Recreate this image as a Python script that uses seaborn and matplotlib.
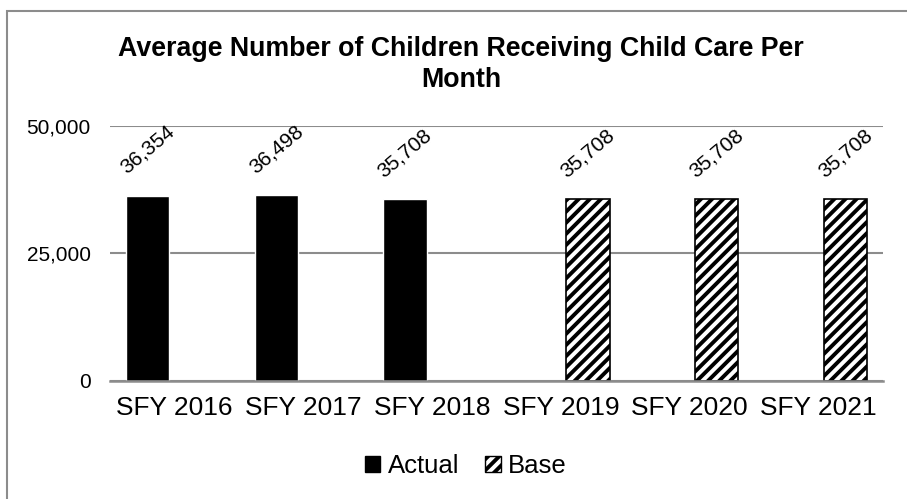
import pandas as pd
import matplotlib.pyplot as plt
import seaborn as sns
from matplotlib.patches import Rectangle, Patch
from matplotlib.ticker import FuncFormatter

# --- data ---
years = ['SFY 2016', 'SFY 2017', 'SFY 2018', 'SFY 2019', 'SFY 2020', 'SFY 2021']
actual_years = ['SFY 2016', 'SFY 2017', 'SFY 2018']
actual_values = [36354, 36498, 35708]
base_years = ['SFY 2019', 'SFY 2020', 'SFY 2021']
base_values = [35708, 35708, 35708]
series_names = ['Actual', 'Base']

df = pd.concat([
    pd.DataFrame({'Year': actual_years, 'Count': actual_values, 'Series': series_names[0]}),
    pd.DataFrame({'Year': base_years, 'Count': base_values, 'Series': series_names[1]}),
], ignore_index=True)

sns.set_style('white')
plt.rcParams['font.family'] = ['Liberation Sans', 'DejaVu Sans']
plt.rcParams['hatch.linewidth'] = 2.8
plt.rcParams['hatch.color'] = 'black'
plt.rcParams['text.color'] = 'black'
plt.rcParams['xtick.color'] = 'black'
plt.rcParams['ytick.color'] = 'black'

fig = plt.figure(figsize=(9.07, 4.99), dpi=100)
ax = fig.add_axes([0.1213, 0.2365, 0.8522, 0.511])

sns.barplot(data=df, x='Year', y='Count', hue='Series', order=years,
            hue_order=series_names, palette=['black', 'white'], dodge=True,
            width=0.84, gap=0.2, saturation=1, ax=ax, legend=False)

# Base bars: white with bold diagonal hatch
for bar in ax.containers[1]:
    bar.set_hatch('///')
    bar.set_edgecolor('black')
    bar.set_linewidth(1.2)

# rotated value labels above each bar
for cont in ax.containers:
    for bar in cont:
        h = bar.get_height()
        if pd.isna(h) or h == 0:
            continue
        ax.annotate(f'{int(h):,}', (bar.get_x() + bar.get_width() / 2, h),
                    xytext=(0, 33), textcoords='offset points',
                    ha='center', va='center', rotation=40, fontsize=15,
                    annotation_clip=False)

ax.set_ylim(0, 50000)
ax.set_yticks([0, 25000, 50000])
ax.yaxis.set_major_formatter(FuncFormatter(lambda v, p: f'{int(v):,}'))
ax.set_xlabel('')
ax.set_ylabel('')
ax.yaxis.grid(True, color='#8c8c8c', linewidth=1.5)
ax.set_axisbelow(True)
for side in ['top', 'right', 'left']:
    ax.spines[side].set_visible(False)
ax.spines['bottom'].set_color('#8c8c8c')
ax.spines['bottom'].set_linewidth(1.8)
ax.tick_params(axis='y', length=0, pad=14, labelsize=15)
ax.tick_params(axis='x', length=0, pad=11, labelsize=19)

fig.text(461 / 907, 0.871, 'Average Number of Children Receiving Child Care Per\nMonth',
         ha='center', va='center', fontsize=19.3, fontweight='bold', linespacing=1.22)

handles = [Patch(facecolor='black', edgecolor='black'),
           Patch(facecolor='white', edgecolor='black', hatch='///')]
fig.legend(handles, series_names, loc='center', bbox_to_anchor=(466 / 907, 1 - 466 / 499),
           ncol=2, frameon=False, fontsize=18.5, handlelength=0.6, handleheight=0.6,
           handletextpad=0.3, columnspacing=1.0)

# chart frame (cut off on the right and bottom in the original)
fig.add_artist(Rectangle((7 / 907, -0.1), 1.0, 1.1 - 11 / 499, transform=fig.transFigure,
                         fill=False, edgecolor='#8c8c8c', linewidth=1.5))

fig.savefig('out.png', dpi=100)
plt.close(fig)
